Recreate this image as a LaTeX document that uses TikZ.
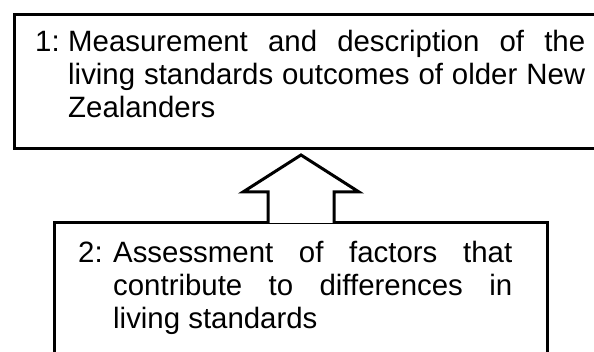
\documentclass[tikz,border=0pt]{standalone}
\usepackage{fontspec}
\setmainfont{Liberation Sans}
\usetikzlibrary{calc}

% numbered paragraph: width, hang, number, text (justified, no hyphenation)
\newcommand{\stagetext}[4]{%
  \parbox[t]{#1}{\fontsize{29.4}{33}\selectfont\hyphenpenalty=10000
    \noindent\hangindent=#2\hangafter=1\makebox[#2][l]{#3}#4}}

\begin{document}
\begin{tikzpicture}[x=1pt,y=1pt,
  frame/.style={draw,line width=3pt,inner sep=0pt,anchor=north west},
  boxtext/.style={inner sep=0pt,anchor=base west},
  blockarrow/.style={draw,line width=3pt,fill=white,line join=miter}]
\useasboundingbox (0,0) rectangle (594,352);
% the two stages
\node[frame,minimum width=597pt,minimum height=134pt] (outcomes) at (13,339) {};
\node[frame,minimum width=493pt,minimum height=170pt] (factors) at (53,130.5) {};
\node[boxtext] (outcomestext) at (35,300)
  {\stagetext{550pt}{33pt}{1:}{Measurement and description of the living standards outcomes of older New Zealanders}};
\node[boxtext] (factorstext) at (78,89)
  {\stagetext{434pt}{35pt}{2:}{Assessment of factors that contribute to differences in living standards}};
% open arrow from stage 2 up to stage 1
\path[blockarrow] ($(factors.north)+(-33,-1.5)$) -- ++(0,31) -- ++(-25,0)
  -- ($(factors.north)+(0,66.5)$) -- ++(58,-37) -- ++(-25,0) -- ++(0,-31);
\end{tikzpicture}
\end{document}
